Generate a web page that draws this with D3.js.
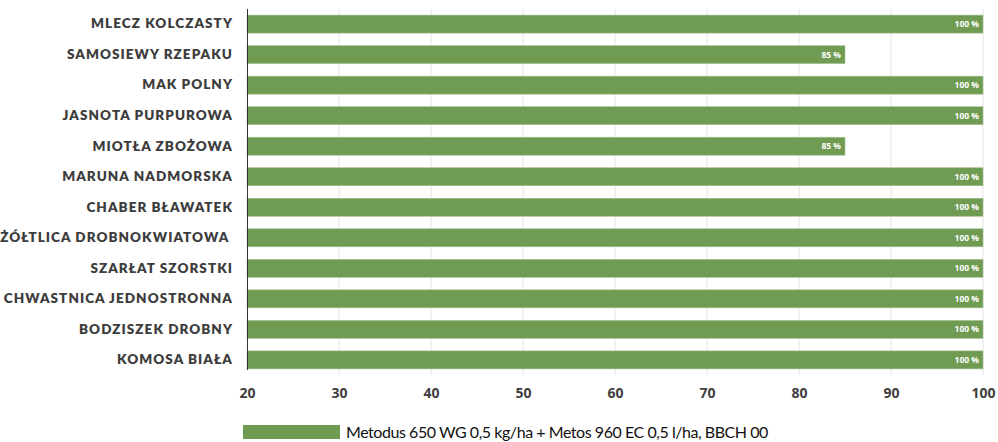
<!DOCTYPE html>
<html>
<head>
<meta charset="utf-8">
<script src="https://cdn.jsdelivr.net/npm/d3@7"></script>
<style>
  html, body { margin: 0; padding: 0; background: #ffffff; }
  svg { display: block; }
</style>
</head>
<body>
<svg id="chart" width="998" height="442"></svg>
<script>
// Weed species, top to bottom
const categories = [
  "MLECZ KOLCZASTY",
  "SAMOSIEWY RZEPAKU",
  "MAK POLNY",
  "JASNOTA PURPUROWA",
  "MIOTŁA ZBOŻOWA",
  "MARUNA NADMORSKA",
  "CHABER BŁAWATEK",
  "ŻÓŁTLICA DROBNOKWIATOWA ",
  "SZARŁAT SZORSTKI",
  "CHWASTNICA JEDNOSTRONNA",
  "BODZISZEK DROBNY",
  "KOMOSA BIAŁA"
];
// Control efficacy (%)
const efficacy = [100, 85, 100, 100, 85, 100, 100, 100, 100, 100, 100, 100];
const xTicks = [20, 30, 40, 50, 60, 70, 80, 90, 100];
const seriesName = "Metodus 650 WG 0,5 kg/ha + Metos 960 EC 0,5 l/ha, BBCH 00";

const barColor = "#6f9b53";
const svg = d3.select("#chart");
const plotLeft = 247, plotRight = 983, plotTop = 9, plotBottom = 375;

const x = d3.scaleLinear().domain([20, 100]).range([plotLeft, plotRight]);
const y = d3.scaleBand().domain(categories).range([plotTop, plotBottom]).paddingInner(0.41).paddingOuter(0.2);

// vertical gridlines
svg.append("g")
  .selectAll("line")
  .data(xTicks.slice(1))
  .join("line")
  .attr("x1", d => x(d)).attr("x2", d => x(d))
  .attr("y1", plotTop).attr("y2", plotBottom)
  .attr("stroke", "#e3e3e3").attr("stroke-width", 1);

// bars
svg.append("g")
  .selectAll("rect")
  .data(categories)
  .join("rect")
  .attr("x", x(20))
  .attr("y", c => y(c))
  .attr("width", (c, i) => x(efficacy[i]) - x(20))
  .attr("height", y.bandwidth())
  .attr("fill", barColor)
  .attr("stroke", "#a9c496")
  .attr("stroke-width", 0.6);

// value labels inside bar ends
svg.append("g")
  .selectAll("text")
  .data(categories)
  .join("text")
  .attr("x", (c, i) => x(efficacy[i]) - 4)
  .attr("y", c => y(c) + y.bandwidth() / 2)
  .attr("dy", "0.35em")
  .attr("text-anchor", "end")
  .attr("font-family", "'Open Sans', sans-serif")
  .attr("font-weight", 700)
  .attr("font-size", "8.5px")
  .attr("fill", "#ffffff")
  .text((c, i) => efficacy[i] + " %");

// category axis
const yAxis = svg.append("g")
  .attr("transform", `translate(${plotLeft},0)`)
  .call(d3.axisLeft(y).tickSize(0).tickPadding(14));
yAxis.select(".domain").attr("stroke", "#333333").attr("stroke-width", 1)
  .attr("d", `M0.5,${plotTop}V${plotBottom - 5}`);
yAxis.selectAll("text")
  .attr("font-family", "Lato, sans-serif")
  .attr("font-weight", 800)
  .attr("font-size", "13.5px")
  .attr("letter-spacing", "1.05px")
  .attr("fill", "#3d3d3d")
  .style("white-space", "pre");

// value axis
const xAxis = svg.append("g")
  .attr("transform", `translate(0,${plotBottom})`)
  .call(d3.axisBottom(x).tickValues(xTicks).tickSize(0).tickPadding(13));
xAxis.select(".domain").remove();
xAxis.selectAll("text")
  .attr("font-family", "'Open Sans', sans-serif")
  .attr("font-weight", 700)
  .attr("font-size", "14px")
  .attr("fill", "#404040");

// legend
const legend = svg.append("g");
legend.append("rect")
  .attr("x", 243).attr("y", 425).attr("width", 97).attr("height", 14)
  .attr("fill", barColor);
legend.append("text")
  .attr("x", 346).attr("y", 438)
  .attr("font-family", "Lato, sans-serif")
  .attr("font-size", "16px")
  .attr("letter-spacing", "-0.45px")
  .attr("fill", "#111111")
  .text(seriesName);
</script>
</body>
</html>
